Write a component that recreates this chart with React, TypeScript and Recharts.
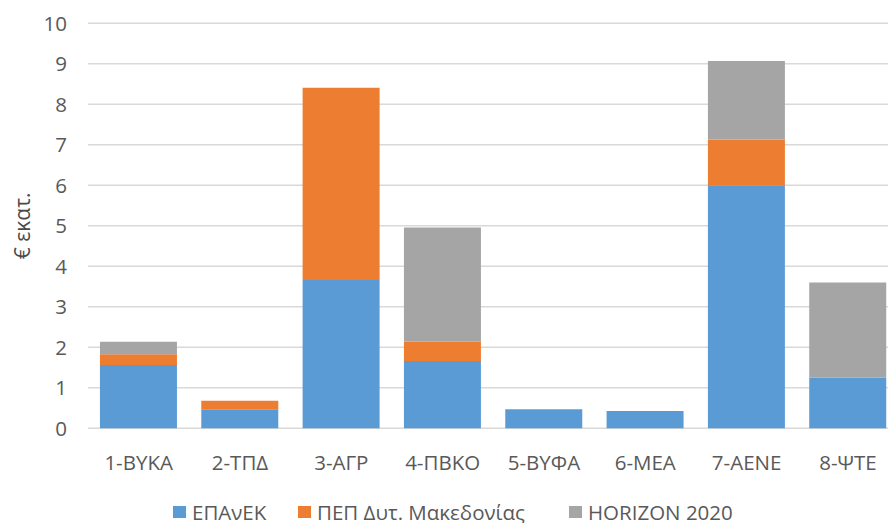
import React from "react";
import { BarChart, Bar, XAxis, YAxis, CartesianGrid, Label } from "recharts";

const categories = ["1-ΒΥΚΑ", "2-ΤΠΔ", "3-ΑΓΡ", "4-ΠΒΚΟ", "5-ΒΥΦΑ", "6-ΜΕΑ", "7-ΑΕΝΕ", "8-ΨΤΕ"];
const epanek = [1.56, 0.47, 3.66, 1.66, 0.47, 0.43, 6.0, 1.25];
const pep = [0.27, 0.21, 4.75, 0.48, 0, 0, 1.13, 0];
const horizon = [0.31, 0, 0, 2.82, 0, 0, 1.94, 2.35];
const seriesNames = ["ΕΠΑνΕΚ", "ΠΕΠ Δυτ. Μακεδονίας", "HORIZON 2020"];
const seriesColors = ["#5b9bd5", "#ed7d31", "#a5a5a5"];
const yTicks = [0, 1, 2, 3, 4, 5, 6, 7, 8, 9, 10];
const yLabel = "€ εκατ.";

const data = categories.map((c, i) => ({
  name: c,
  s0: epanek[i],
  s1: pep[i],
  s2: horizon[i],
}));

const FONT = "'Open Sans', sans-serif";
const TXT = "#595959";

const legendLefts = [173, 298, 569];

export default function App() {
  return (
    <div
      style={{
        position: "fixed",
        left: 0,
        top: 0,
        width: 888,
        height: 523,
        overflow: "hidden",
        background: "#fff",
        fontFamily: FONT,
      }}
    >
      <BarChart
        width={910}
        height={523}
        data={data}
        margin={{ top: 23.3, right: 11.4, left: 0, bottom: 54.7 }}
        barCategoryGap="11.8%"
      >
        <CartesianGrid vertical={false} stroke="#d9d9d9" strokeWidth={1.5} />
        <XAxis
          dataKey="name"
          axisLine={false}
          tickLine={false}
          tickSize={0}
          tickMargin={27}
          height={40}
          interval={0}
          tick={{ fill: TXT, fontSize: 20.5, fontFamily: FONT }}
        />
        <YAxis
          width={88}
          domain={[0, 10]}
          ticks={yTicks}
          axisLine={false}
          tickLine={false}
          tickSize={0}
          tickMargin={21}
          interval={0}
          tick={{ fill: TXT, fontSize: 20.5, fontFamily: FONT }}
        >
          <Label
            value={yLabel}
            angle={-90}
            position="insideLeft"
            offset={23}
            style={{ fill: "#4a4a4a", fontSize: 21, fontFamily: FONT, textAnchor: "middle" }}
          />
        </YAxis>
        {seriesNames.map((n, i) => (
          <Bar
            key={n}
            dataKey={"s" + i}
            name={n}
            stackId="a"
            fill={seriesColors[i]}
            isAnimationActive={false}
          />
        ))}
      </BarChart>
      {seriesNames.map((n, i) => (
        <div
          key={n}
          style={{
            position: "absolute",
            left: legendLefts[i],
            top: 500,
            height: 24,
            lineHeight: "24px",
            display: "flex",
            alignItems: "center",
            fontSize: 20.5,
            color: TXT,
            whiteSpace: "nowrap",
          }}
        >
          <span
            style={{
              display: "inline-block",
              width: 12.5,
              height: 12.5,
              background: seriesColors[i],
              marginRight: 6.5,
            }}
          />
          <span>{n}</span>
        </div>
      ))}
    </div>
  );
}
